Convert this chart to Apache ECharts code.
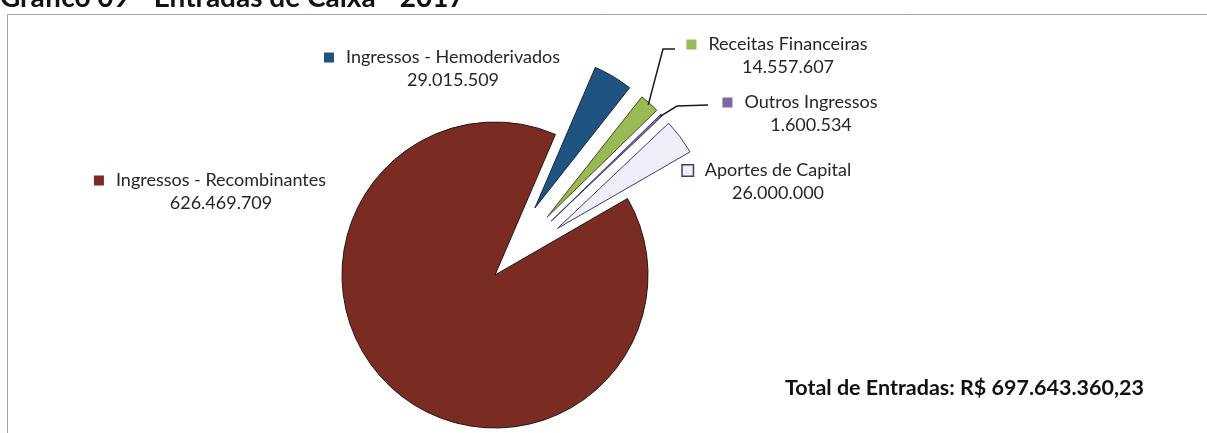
<!DOCTYPE html>
<html>
<head>
<meta charset="utf-8">
<script src="https://cdn.jsdelivr.net/npm/echarts@6/dist/echarts.min.js"></script>
<style>
  html, body { margin: 0; padding: 0; background: #ffffff; }
  #chart { width: 1207px; height: 433px; }
</style>
</head>
<body>
<div id="chart"></div>
<script>
// Cash inflows 2017, by source (R$)
const categories = [
  'Ingressos - Recombinantes',
  'Ingressos - Hemoderivados',
  'Receitas Financeiras',
  'Outros Ingressos',
  'Aportes de Capital'
];
const values = [626469709, 29015509, 14557607, 1600534, 26000000];
const exploded = [false, true, true, true, true];
const titleText = 'Gráfico 09 - Entradas de Caixa - 2017';
const totalText = 'Total de Entradas: R$ 697.643.360,23';

// Styling
const fillColors = ['#7a2c23', '#1e5382', '#99ba55', '#8066a5', '#eeeff9'];
const edgeColors = ['#2a1410', '#14263a', '#3d4a22', '#3b3f73', '#3b3f73'];
const markerEdge = ['#7a2c23', '#1e5382', '#99ba55', '#8066a5', '#3b3f73'];
const PIE_CX = 495, PIE_CY = 275, PIE_R = 153, PIE_START = 30, EXPLODE = 78;
// label block centres, and leader line bends for the labels that use one
const labelAnchors = [[210, 192], [442, 69], [777, 56], [800, 114], [767, 182]];
const leaderBends = [null, null, [[663, 49], [675, 49]], [[677, 106], [708, 105]], null];
const FONT = 'Lato, "Open Sans", sans-serif';

function fmt(v) {
  return String(v).replace(/\B(?=(\d{3})+(?!\d))/g, '.');
}

// outer-edge midpoint of a slice, following the pie's own angle layout
function sliceEdgePoint(i) {
  const total = values.reduce((a, b) => a + b, 0);
  let before = 0;
  for (let k = 0; k < i; k++) before += values[k];
  const clockDeg = (90 - PIE_START) + (before + values[i] / 2) / total * 360;
  const rad = clockDeg * Math.PI / 180;
  const dist = PIE_R - 2 + (exploded[i] ? EXPLODE : 0);
  return [PIE_CX + dist * Math.sin(rad), PIE_CY - dist * Math.cos(rad)];
}

// the drawn slices (exploded ones use the selected offset)
const sliceData = categories.map((name, i) => ({
  name: name,
  value: values[i],
  selected: exploded[i],
  itemStyle: { color: fillColors[i], borderColor: edgeColors[i], borderWidth: 1 }
}));

// the same slices again, carrying the data labels on an unmoved layout
const labelData = categories.map((name, i) => ({
  name: name,
  value: values[i],
  label: {
    formatter: (p) => '{mk|}{t|' + p.name + '}\n{sp|}{t|' + fmt(p.value) + '}',
    rich: {
      mk: { width: 10, height: 10, backgroundColor: fillColors[i], borderColor: markerEdge[i], borderWidth: i === 4 ? 1.5 : 0 },
      sp: { width: 10, height: 10 },
      t: { fontFamily: FONT, fontSize: 18, color: '#262626', lineHeight: 23, padding: [0, 0, 0, 12] }
    }
  },
  labelLine: { show: !!leaderBends[i], lineStyle: { color: '#1a1a1a', width: 1.5 } }
}));

const pieBase = {
  type: 'pie',
  center: [PIE_CX, PIE_CY],
  radius: PIE_R,
  startAngle: PIE_START,
  clockwise: true,
  avoidLabelOverlap: false,
  emphasis: { disabled: true }
};

const chart = echarts.init(document.getElementById('chart'), null, { renderer: 'canvas' });
chart.setOption({
  animation: false,
  backgroundColor: '#ffffff',
  graphic: [
    {
      type: 'rect', silent: true, z: -1,
      shape: { x: 7.5, y: 14.5, width: 1215, height: 425 },
      style: { fill: 'none', stroke: '#a3a3a3', lineWidth: 1 }
    },
    {
      type: 'text', left: 0, top: -16,
      style: { text: titleText, font: 'bold 28px ' + FONT, fill: '#111111' }
    },
    {
      type: 'text', left: 785, top: 377,
      style: { text: totalText, font: 'bold 21.5px ' + FONT, fill: '#111111' }
    }
  ],
  series: [
    Object.assign({}, pieBase, {
      selectedMode: 'multiple',
      selectedOffset: EXPLODE,
      label: { show: false },
      labelLine: { show: false },
      data: sliceData
    }),
    Object.assign({}, pieBase, {
      silent: true,
      z: 3,
      itemStyle: { color: 'rgba(0,0,0,0)', borderWidth: 0 },
      label: { show: true, position: 'outside' },
      labelLine: { length: 10, length2: 10 },
      labelLayout: function (p) {
        const i = p.dataIndex;
        const a = labelAnchors[i];
        const out = { x: a[0], y: a[1], align: 'center', verticalAlign: 'middle' };
        if (leaderBends[i]) {
          out.labelLinePoints = [sliceEdgePoint(i)].concat(leaderBends[i]);
        }
        return out;
      },
      data: labelData
    })
  ]
});
</script>
</body>
</html>
